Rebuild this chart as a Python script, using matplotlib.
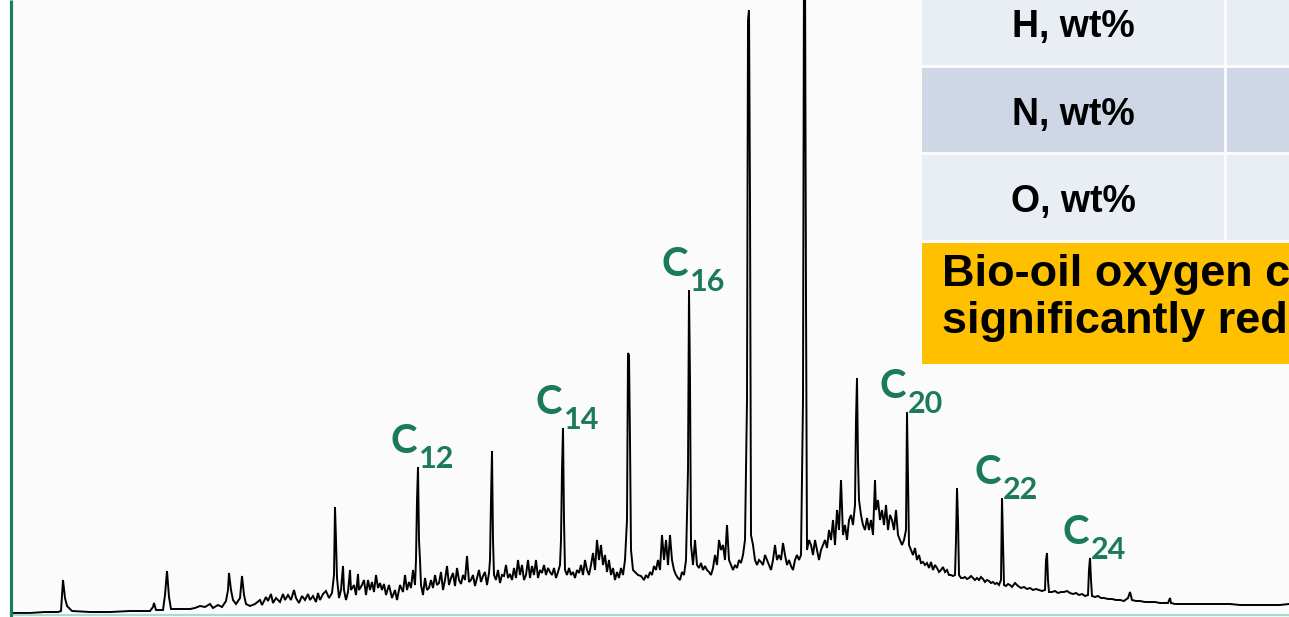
import numpy as np
import matplotlib
matplotlib.use("Agg")
import matplotlib.pyplot as plt
from matplotlib.patches import Rectangle

# ---------------- data ----------------
# retention position (arbitrary units) and detector response
retention = [12, 30, 45, 58, 61, 63, 65, 67, 72, 90, 110, 130, 150, 153, 154, 156, 163, 165, 167, 169,
             171, 180, 190, 195, 200, 205, 210, 213, 218, 222, 226, 228, 229, 231, 233, 236, 240, 242, 244, 246,
             250, 255, 260, 262, 266, 268, 271, 273, 276, 280, 283, 285, 288, 291, 294, 296, 299, 302, 305, 308,
             310, 313, 316, 318, 320, 323, 326, 329, 332, 334, 335, 336, 337, 339, 341, 343, 344, 346, 348, 350,
             351, 354, 356, 358, 359, 362, 364, 366, 368, 370, 372, 374, 376, 378, 380, 382, 384, 386, 389, 392,
             395, 397, 400, 403, 405, 407, 409, 411, 413, 415, 416, 417, 418, 419, 420, 421, 423, 425, 427, 429,
             431, 433, 435, 437, 439, 441, 443, 445, 447, 449, 451, 453, 455, 457, 459, 461, 463, 465, 467, 469,
             471, 473, 475, 477, 479, 481, 483, 485, 487, 489, 490, 491, 492, 493, 494, 496, 498, 500, 502, 504,
             506, 508, 510, 512, 514, 516, 518, 520, 522, 524, 526, 528, 530, 532, 534, 536, 538, 540, 542, 544,
             546, 548, 550, 552, 554, 556, 558, 560, 561, 562, 563, 564, 565, 567, 569, 571, 573, 575, 577, 579,
             581, 583, 585, 587, 589, 591, 593, 595, 597, 599, 601, 603, 605, 607, 609, 611, 613, 615, 617, 619,
             621, 623, 625, 627, 628, 629, 630, 631, 633, 635, 638, 641, 644, 646, 648, 650, 652, 654, 656, 658,
             660, 662, 664, 666, 668, 670, 672, 674, 676, 678, 680, 682, 684, 686, 688, 689, 690, 691, 693, 695,
             697, 699, 701, 703, 705, 707, 709, 711, 713, 715, 717, 719, 721, 723, 725, 727, 729, 731, 733, 735,
             737, 739, 741, 743, 745, 747, 748, 749, 750, 751, 753, 755, 757, 759, 761, 763, 765, 767, 769, 771,
             773, 775, 777, 779, 781, 783, 785, 787, 789, 791, 793, 795, 797, 799, 801, 803, 804, 805, 806, 807,
             809, 811, 813, 815, 817, 819, 821, 823, 825, 827, 829, 831, 833, 835, 837, 839, 841, 843, 845, 847,
             849, 851, 853, 855, 856, 857, 858, 859, 861, 863, 865, 867, 869, 871, 873, 875, 876, 878, 880, 882,
             884, 886, 888, 890, 892, 894, 896, 898, 900, 902, 904, 906, 907, 908, 909, 911, 913, 915, 917, 919,
             921, 923, 925, 927, 929, 931, 933, 935, 937, 939, 941, 943, 945, 947, 949, 951, 953, 955, 956, 957,
             958, 959, 961, 963, 965, 967, 969, 971, 973, 975, 977, 979, 981, 983, 985, 987, 989, 991, 993, 995,
             997, 999, 1001, 1002, 1003, 1004, 1006, 1008, 1010, 1012, 1015, 1018, 1021, 1024, 1027, 1030, 1033,
             1036, 1039, 1042, 1045, 1046, 1047, 1048, 1049, 1052, 1055, 1058, 1061, 1064, 1067, 1070, 1073, 1076,
             1079, 1082, 1085, 1088, 1089, 1090, 1091, 1092, 1095, 1098, 1101, 1104, 1108, 1112, 1116, 1120, 1124,
             1128, 1130, 1132, 1136, 1140, 1145, 1150, 1155, 1160, 1165, 1168, 1170, 1171, 1175, 1180, 1190, 1200,
             1210, 1220, 1230, 1240, 1250, 1260, 1270, 1280, 1289]

response = [2, 2, 3, 3, 4, 35, 17, 9, 4, 3, 3, 4, 4, 8, 12, 5, 5, 20, 44, 18,
            6, 6, 6, 7, 9, 8, 11, 7, 10, 8, 14, 25, 42, 25, 15, 11, 17, 39, 20, 11,
            9, 11, 15, 10, 18, 14, 21, 12, 17, 13, 21, 15, 20, 15, 25, 17, 12, 19, 15, 21,
            15, 19, 13, 22, 15, 21, 24, 17, 22, 40, 108, 75, 37, 17, 25, 49, 25, 15, 23, 45,
            25, 30, 20, 41, 25, 30, 35, 20, 35, 25, 33, 23, 40, 27, 32, 25, 31, 20, 30, 17,
            25, 15, 30, 23, 40, 25, 33, 27, 45, 30, 55, 115, 148, 75, 55, 30, 20, 37, 25, 27,
            35, 27, 40, 30, 32, 43, 25, 35, 49, 30, 37, 42, 29, 47, 35, 31, 40, 35, 59, 33,
            35, 40, 29, 37, 45, 33, 39, 43, 30, 42, 55, 115, 164, 75, 40, 35, 45, 32, 40, 39,
            50, 37, 41, 35, 47, 37, 55, 40, 50, 35, 40, 55, 37, 49, 40, 55, 37, 45, 42, 50,
            40, 47, 43, 40, 47, 37, 43, 50, 75, 145, 187, 95, 45, 40, 47, 40, 43, 37, 45, 42,
            50, 40, 55, 45, 40, 50, 62, 45, 75, 55, 70, 50, 60, 43, 55, 40, 47, 35, 43, 37,
            47, 40, 55, 95, 262, 260, 175, 65, 45, 43, 40, 39, 35, 40, 37, 43, 40, 49, 45, 55,
            45, 80, 55, 75, 50, 80, 55, 45, 40, 37, 35, 43, 40, 55, 145, 325, 235, 70, 50, 75,
            50, 47, 52, 45, 49, 45, 43, 40, 47, 60, 50, 75, 65, 70, 55, 90, 55, 50, 45, 50,
            47, 55, 52, 60, 75, 215, 595, 605, 415, 80, 70, 55, 50, 55, 53, 50, 60, 55, 50, 45,
            55, 70, 55, 60, 55, 72, 60, 50, 55, 49, 45, 55, 60, 55, 60, 215, 655, 655, 315, 65,
            75, 70, 60, 75, 65, 55, 65, 70, 75, 67, 85, 75, 95, 70, 105, 85, 135, 80, 90, 75,
            95, 100, 90, 110, 195, 237, 155, 115, 100, 90, 85, 97, 85, 95, 80, 135, 105, 115, 95, 105,
            90, 110, 85, 100, 95, 85, 105, 80, 75, 70, 75, 85, 203, 135, 70, 65, 60, 67, 55, 60,
            52, 53, 50, 52, 47, 53, 45, 50, 47, 43, 45, 48, 43, 45, 40, 40, 39, 40, 75, 127,
            95, 40, 37, 37, 38, 36, 37, 39, 37, 35, 37, 35, 38, 36, 33, 35, 34, 32, 33, 31,
            32, 30, 35, 117, 75, 30, 29, 31, 30, 28, 32, 29, 27, 28, 26, 27, 25,
            26, 25, 24, 25, 55, 62, 35, 23, 23, 24, 22, 23, 23, 24, 22, 21, 22,
            20, 21, 19, 20, 45, 57, 35, 19, 18, 19, 17, 17, 16, 16, 15, 15, 14,
            17, 23, 15, 14, 14, 13, 13, 13, 12, 12, 12, 17, 12, 11, 11, 11, 11,
            11, 11, 11, 10, 10, 10, 10, 10, 11]

alkane_labels = ["12", "14", "16", "20", "22", "24"]
alkane_retention = [418, 563, 689, 907, 1002, 1090]

table_rows = ["H, wt%", "N, wt%", "O, wt%"]
table_colors = ["#e9edf4", "#cfd7e6", "#e9edf4"]
note_lines = ["Bio-oil oxygen content", "significantly reduced"]

# ---------------- figure ----------------
W, H = 1289, 617
fig = plt.figure(figsize=(W / 100, H / 100), dpi=100)
fig.patch.set_facecolor("white")
ax = fig.add_axes([0, 0, 1, 1])
ax.set_xlim(0, W)
ax.set_ylim(-2, 615)
ax.axis("off")

# faint plot background
ax.add_patch(Rectangle((12, -2), W, 620, facecolor="#fbfbfb", edgecolor="none", zorder=0))

rt = np.array(retention, dtype=float)
resp = np.array(response, dtype=float)
ax.plot(rt, resp, color="black", lw=1.4, solid_joinstyle="miter", zorder=3)

# axes lines
ax.plot([10.5, 10.5], [-2, 615], color="#1e7b5e", lw=2.3, zorder=5, solid_capstyle="butt")
ax.plot([12, W], [0.5, 0.5], color="#a6dbd0", lw=1.6, zorder=4, solid_capstyle="butt")

# alkane labels
green = "#1a7a5a"
for name, r in zip(alkane_labels, alkane_retention):
    mask = np.abs(rt - r) <= 2
    h = resp[mask].max()
    ax.text(r - 1, h + 14, "C", ha="right", va="baseline", color=green,
            fontsize=29, fontfamily="Lato", fontweight="bold", zorder=6)
    ax.text(r + 1, h - 1, name, ha="left", va="baseline", color=green,
            fontsize=22, fontfamily="Lato", fontweight="bold", zorder=6)

# table (right, cropped)
row_tops = [615 + 20, 615 - 68, 615 - 155]
row_bottoms = [615 - 65, 615 - 152, 615 - 240]
baselines = [615 - 37, 615 - 125, 615 - 212]
for label, col, top, bot, bl in zip(table_rows, table_colors, row_tops, row_bottoms, baselines):
    ax.add_patch(Rectangle((922, bot), 1224 - 922, top - bot, facecolor=col, edgecolor="none", zorder=7))
    ax.add_patch(Rectangle((1227, bot), 200, top - bot, facecolor=col, edgecolor="none", zorder=7))
    ax.text(1073, bl, label, ha="center", va="baseline", fontsize=27,
            fontfamily="Liberation Sans", fontweight="bold", color="black", zorder=8)

# yellow note box (cropped at the right edge, as in the source)
ax.add_patch(Rectangle((922, 615 - 364), 400, 364 - 243, facecolor="#ffc000", edgecolor="none", zorder=7))
for line, bl in zip(note_lines, [615 - 286, 615 - 333]):
    ax.text(942, bl, line, ha="left", va="baseline", fontsize=32.5,
            fontfamily="Liberation Sans", fontweight="bold", color="black", zorder=8, clip_on=True)

fig.savefig("out.png", dpi=100, facecolor="white")
